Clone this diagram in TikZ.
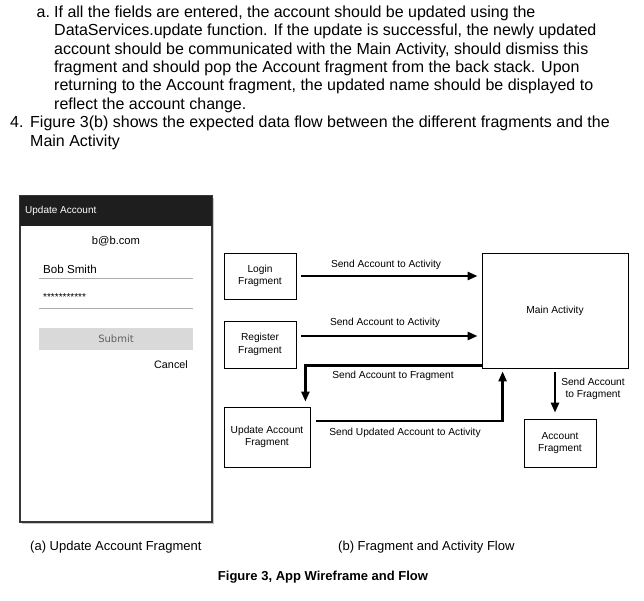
\documentclass[tikz,border=0pt]{standalone}
\usepackage{fontspec}
\setmainfont{Liberation Sans}
\newfontfamily\btnfont{DejaVu Sans}
\usetikzlibrary{arrows.meta}
\definecolor{barbg}{RGB}{30,30,30}
\definecolor{btnbg}{RGB}{217,217,217}
\definecolor{framec}{RGB}{55,55,55}
\newcommand{\fs}[2]{\fontsize{#1}{#2}\selectfont}
\tikzset{
  txt/.style={anchor=base west, inner sep=0pt, font=\fs{16}{18.4}},
  fbox/.style={draw, line width=0.8pt, align=center, inner sep=0pt, font=\fs{10.2}{12.4}},
  lbl/.style={inner sep=0pt, align=center, font=\fs{10.2}{12.4}},
  flow/.style={-{Triangle[length=10pt,width=8pt]}, line width=2.4pt},
  uline/.style={draw=gray!65, line width=0.8pt},
}

\begin{document}
\begin{tikzpicture}[x=1pt, y=-1pt]
  \useasboundingbox (0,0) rectangle (644,600);
  % text above the figure
  \node[txt] (ia) at (36.5,17.3) {a.};
  \node[txt] (t1) at (54,17.3) {If all the fields are entered, the account should be updated using the};
  \node[txt] (t2) at (54,35.7) {DataServices.update function. If the update is successful, the newly updated};
  \node[txt] (t3) at (54,54.1) {account should be communicated with the Main Activity, should dismiss this};
  \node[txt] (t4) at (54,72.5) {fragment and should pop the Account fragment from the back stack. Upon};
  \node[txt] (t5) at (54,90.9) {returning to the Account fragment, the updated name should be displayed to};
  \node[txt] (t6) at (54,109.3) {reflect the account change.};
  \node[txt] (i4) at (10,127.7) {4.};
  \node[txt] (t7) at (30,127.7) {Figure 3(b) shows the expected data flow between the different fragments and the};
  \node[txt] (t8) at (30,146.1) {Main Activity};

  % (a) wireframe
  \fill[gray!45] (22,198) rectangle (214,524);
  \draw[framec, line width=1.2pt, fill=white] (20,196) rectangle (212,522);
  \fill[barbg] (20,196) rectangle (212,226);
  \node[anchor=west, inner sep=0pt, text=white, font=\fs{10}{12}] (bar) at (25,211) {Update Account};
  \node[inner sep=0pt, font=\fs{11.2}{13}] (mail) at (116,241) {b@b.com};
  \node[anchor=west, inner sep=0pt, font=\fs{11.6}{13}] (name) at (43,269) {Bob Smith};
  \draw[uline] (39,278) -- (193,278);
  \node[anchor=west, inner sep=0pt, font=\fs{10}{12}] (pw) at (43,297) {***********};
  \draw[uline] (39,308) -- (193,308);
  \fill[btnbg] (39,328) rectangle (193,350);
  \node[inner sep=0pt, text=gray!75!black, font=\btnfont\fs{10}{12}] (submit) at (116,339) {Submit};
  \node[inner sep=0pt, font=\fs{10.8}{13}] (cancel) at (171,365) {Cancel};

  % (b) flow
  \node[fbox, minimum width=72pt, minimum height=46pt] (login) at (260,276) {Login\\Fragment};
  \node[fbox, minimum width=72pt, minimum height=47pt] (reg) at (260,344.5) {Register\\Fragment};
  \node[fbox, minimum width=146pt, minimum height=115pt] (main) at (555,310.5) {Main Activity};
  \node[fbox, minimum width=86pt, minimum height=60pt] (upd) at (267,437) {Update Account\\Fragment};
  \node[fbox, minimum width=72pt, minimum height=48pt] (acc) at (560,443) {Account\\Fragment};

  \draw[flow, shorten <=5pt, shorten >=4pt] (login.east) -- (login.east -| main.west);
  \draw[flow, shorten <=5pt, shorten >=4pt] ([yshift=8.5pt]reg.east) -- ([yshift=8.5pt]reg.east -| main.west);
  \draw[flow, shorten >=5pt] ([yshift=3pt]main.south west) -| ([xshift=-5pt]upd.north east);
  \draw[flow, shorten <=6pt, shorten >=3pt] ([yshift=16pt]upd.east) -| ([xshift=21pt]main.south west);
  \draw[flow, shorten <=4pt, shorten >=6pt] (main.south) -- (main.south |- acc.north);

  \node[lbl] (l1) at (386,265) {Send Account to Activity};
  \node[lbl] (l2) at (385,323) {Send Account to Activity};
  \node[lbl] (l3) at (393,376) {Send Account to Fragment};
  \node[lbl] (l4) at (405,433) {Send Updated Account to Activity};
  \node[lbl] (l5) at (593,389) {Send Account\\to Fragment};

  % captions
  \node[anchor=west, inner sep=0pt, font=\fs{13}{15}] (capa) at (30,547) {(a) Update Account Fragment};
  \node[anchor=west, inner sep=0pt, font=\fs{13}{15}] (capb) at (338,547) {(b) Fragment and Activity Flow};
  \node[inner sep=0pt, font=\bfseries\fs{13}{15}] (fig) at (323,577) {Figure 3, App Wireframe and Flow};
\end{tikzpicture}
\end{document}
